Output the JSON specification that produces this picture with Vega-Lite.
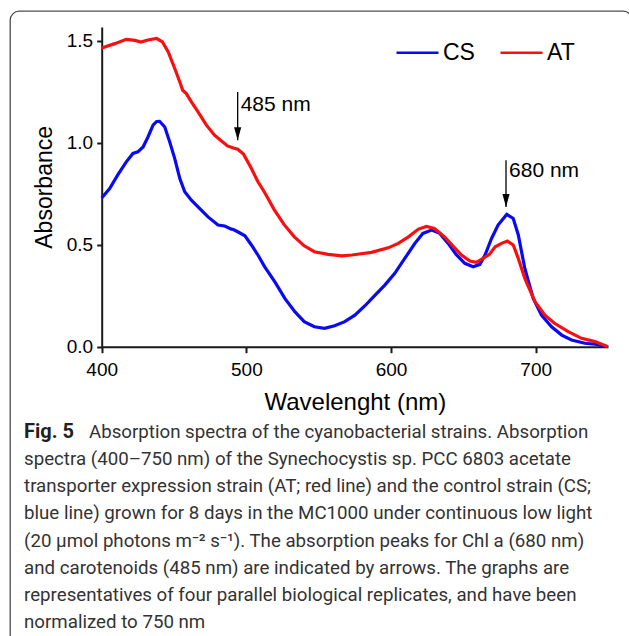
{
  "$schema": "https://vega.github.io/schema/vega-lite/v6.json",
  "width": 622,
  "height": 635,
  "autosize": {"type": "none"},
  "padding": {"left": 10, "top": 11, "right": -3, "bottom": -10},
  "background": "white",
  "config": {
    "view": {"stroke": "#4d4d4d", "strokeWidth": 1.3, "cornerRadius": 9},
    "font": "Liberation Sans"
  },
  "datasets": {
    "spectra": [
      {"strain":"CS","nm":400,"abs":0.73},{"strain":"CS","nm":405.5,"abs":0.776},{"strain":"CS","nm":411,"abs":0.842},{"strain":"CS","nm":417,"abs":0.907},{"strain":"CS","nm":421.6,"abs":0.948},{"strain":"CS","nm":425,"abs":0.956},{"strain":"CS","nm":428.6,"abs":0.98},{"strain":"CS","nm":432,"abs":1.029},{"strain":"CS","nm":435.5,"abs":1.087},{"strain":"CS","nm":438,"abs":1.105},{"strain":"CS","nm":440,"abs":1.106},{"strain":"CS","nm":443.6,"abs":1.078},{"strain":"CS","nm":447,"abs":1.005},{"strain":"CS","nm":450.5,"abs":0.923},{"strain":"CS","nm":454,"abs":0.825},{"strain":"CS","nm":457.4,"abs":0.76},{"strain":"CS","nm":462,"abs":0.719},{"strain":"CS","nm":466.6,"abs":0.686},{"strain":"CS","nm":473.5,"abs":0.637},{"strain":"CS","nm":480.4,"abs":0.597},{"strain":"CS","nm":485,"abs":0.592},{"strain":"CS","nm":489.7,"abs":0.577},{"strain":"CS","nm":491,"abs":0.575},{"strain":"CS","nm":494,"abs":0.564},{"strain":"CS","nm":499,"abs":0.544},{"strain":"CS","nm":503.5,"abs":0.499},{"strain":"CS","nm":508,"abs":0.45},{"strain":"CS","nm":512.7,"abs":0.392},{"strain":"CS","nm":519.6,"abs":0.319},{"strain":"CS","nm":526.6,"abs":0.237},{"strain":"CS","nm":533.5,"abs":0.172},{"strain":"CS","nm":540,"abs":0.123},{"strain":"CS","nm":547,"abs":0.098},{"strain":"CS","nm":554,"abs":0.09},{"strain":"CS","nm":561,"abs":0.103},{"strain":"CS","nm":568,"abs":0.123},{"strain":"CS","nm":575,"abs":0.155},{"strain":"CS","nm":582,"abs":0.201},{"strain":"CS","nm":589,"abs":0.253},{"strain":"CS","nm":595.7,"abs":0.302},{"strain":"CS","nm":602.6,"abs":0.36},{"strain":"CS","nm":609.5,"abs":0.433},{"strain":"CS","nm":616.5,"abs":0.507},{"strain":"CS","nm":622,"abs":0.556},{"strain":"CS","nm":628,"abs":0.572},{"strain":"CS","nm":633.7,"abs":0.556},{"strain":"CS","nm":639.5,"abs":0.507},{"strain":"CS","nm":645,"abs":0.453},{"strain":"CS","nm":651,"abs":0.409},{"strain":"CS","nm":656.8,"abs":0.392},{"strain":"CS","nm":661.4,"abs":0.404},{"strain":"CS","nm":665,"abs":0.45},{"strain":"CS","nm":669.5,"abs":0.531},{"strain":"CS","nm":674,"abs":0.597},{"strain":"CS","nm":680,"abs":0.649},{"strain":"CS","nm":684.5,"abs":0.629},{"strain":"CS","nm":688,"abs":0.548},{"strain":"CS","nm":692.5,"abs":0.384},{"strain":"CS","nm":698.3,"abs":0.237},{"strain":"CS","nm":704,"abs":0.155},{"strain":"CS","nm":711,"abs":0.098},{"strain":"CS","nm":718,"abs":0.057},{"strain":"CS","nm":724.8,"abs":0.033},{"strain":"CS","nm":734,"abs":0.017},{"strain":"CS","nm":741,"abs":0.012},{"strain":"CS","nm":750,"abs":0.0},
      {"strain":"AT","nm":400,"abs":1.466},{"strain":"AT","nm":409,"abs":1.487},{"strain":"AT","nm":417,"abs":1.508},{"strain":"AT","nm":423,"abs":1.503},{"strain":"AT","nm":427,"abs":1.495},{"strain":"AT","nm":432,"abs":1.505},{"strain":"AT","nm":438,"abs":1.512},{"strain":"AT","nm":442,"abs":1.495},{"strain":"AT","nm":446,"abs":1.446},{"strain":"AT","nm":450.5,"abs":1.365},{"strain":"AT","nm":454,"abs":1.299},{"strain":"AT","nm":456,"abs":1.258},{"strain":"AT","nm":458.5,"abs":1.242},{"strain":"AT","nm":462,"abs":1.201},{"strain":"AT","nm":466.6,"abs":1.152},{"strain":"AT","nm":472.4,"abs":1.087},{"strain":"AT","nm":478,"abs":1.038},{"strain":"AT","nm":483,"abs":1.008},{"strain":"AT","nm":487,"abs":0.985},{"strain":"AT","nm":491,"abs":0.975},{"strain":"AT","nm":494,"abs":0.969},{"strain":"AT","nm":498,"abs":0.945},{"strain":"AT","nm":503.5,"abs":0.874},{"strain":"AT","nm":508,"abs":0.809},{"strain":"AT","nm":511.5,"abs":0.77},{"strain":"AT","nm":515,"abs":0.727},{"strain":"AT","nm":519,"abs":0.675},{"strain":"AT","nm":526,"abs":0.6},{"strain":"AT","nm":533,"abs":0.54},{"strain":"AT","nm":540,"abs":0.495},{"strain":"AT","nm":547,"abs":0.466},{"strain":"AT","nm":556.5,"abs":0.453},{"strain":"AT","nm":566,"abs":0.446},{"strain":"AT","nm":573,"abs":0.45},{"strain":"AT","nm":578,"abs":0.455},{"strain":"AT","nm":586.5,"abs":0.463},{"strain":"AT","nm":598,"abs":0.485},{"strain":"AT","nm":605,"abs":0.507},{"strain":"AT","nm":612,"abs":0.539},{"strain":"AT","nm":619,"abs":0.577},{"strain":"AT","nm":624.5,"abs":0.59},{"strain":"AT","nm":630,"abs":0.58},{"strain":"AT","nm":637,"abs":0.539},{"strain":"AT","nm":644,"abs":0.485},{"strain":"AT","nm":648.7,"abs":0.45},{"strain":"AT","nm":654.5,"abs":0.42},{"strain":"AT","nm":659,"abs":0.414},{"strain":"AT","nm":663.6,"abs":0.433},{"strain":"AT","nm":668,"abs":0.453},{"strain":"AT","nm":672,"abs":0.49},{"strain":"AT","nm":676.4,"abs":0.507},{"strain":"AT","nm":680.5,"abs":0.518},{"strain":"AT","nm":684.5,"abs":0.499},{"strain":"AT","nm":688,"abs":0.433},{"strain":"AT","nm":692.5,"abs":0.335},{"strain":"AT","nm":699.5,"abs":0.221},{"strain":"AT","nm":706.4,"abs":0.155},{"strain":"AT","nm":713,"abs":0.115},{"strain":"AT","nm":722.5,"abs":0.074},{"strain":"AT","nm":731.7,"abs":0.041},{"strain":"AT","nm":741,"abs":0.025},{"strain":"AT","nm":750,"abs":0.0}
    ],
    "arrows": [
      {"nm": 494, "top": 1.25, "tip": 1.013, "labelY": 1.188, "label": "485 nm"},
      {"nm": 679.5, "top": 0.915, "tip": 0.686, "labelY": 0.863, "label": "680 nm"}
    ],
    "caption": [
      {"line": 1, "lead": "Fig. 5", "text": "Absorption spectra of the cyanobacterial strains. Absorption"},
      {"line": 2, "lead": "", "text": "spectra (400–750 nm) of the Synechocystis sp. PCC 6803 acetate"},
      {"line": 3, "lead": "", "text": "transporter expression strain (AT; red line) and the control strain (CS;"},
      {"line": 4, "lead": "", "text": "blue line) grown for 8 days in the MC1000 under continuous low light"},
      {"line": 5, "lead": "", "text": "(20 µmol photons m⁻² s⁻¹). The absorption peaks for Chl a (680 nm)"},
      {"line": 6, "lead": "", "text": "and carotenoids (485 nm) are indicated by arrows. The graphs are"},
      {"line": 7, "lead": "", "text": "representatives of four parallel biological replicates, and have been"},
      {"line": 8, "lead": "", "text": "normalized to 750 nm"}
    ]
  },
  "layer": [
    {
      "layer": [
        {
          "data": {"name": "spectra"},
          "mark": {"type": "line", "strokeWidth": 3.2},
          "encoding": {
            "x": {
              "field": "nm", "type": "quantitative",
              "scale": {"domain": [400, 750], "range": [91.7, 598], "nice": false, "zero": false},
              "axis": {
                "title": "Wavelenght (nm)", "values": [400, 500, 600, 700], "format": "d",
                "offset": -299.3, "grid": false, "labelFlush": false,
                "domainColor": "#1a1a1a", "domainWidth": 2, "tickColor": "#1a1a1a", "tickWidth": 2, "tickSize": 6,
                "labelFont": "Liberation Sans", "labelFontSize": 19, "labelColor": "black", "labelPadding": 8,
                "titleFont": "Liberation Sans", "titleFontSize": 24, "titleFontWeight": "normal", "titleColor": "black", "titlePadding": 11
              }
            },
            "y": {
              "field": "abs", "type": "quantitative",
              "scale": {"domain": [0, 1.5686], "range": [335.7, 16], "nice": false, "zero": false},
              "axis": {
                "title": "Absorbance", "values": [0, 0.5, 1, 1.5], "format": ".1f",
                "offset": -91.7, "grid": false, "labelFlush": false,
                "domainColor": "#1a1a1a", "domainWidth": 2, "tickColor": "#1a1a1a", "tickWidth": 2, "tickSize": 5,
                "labelFont": "Liberation Sans", "labelFontSize": 19, "labelColor": "black", "labelPadding": 4,
                "titleFont": "Liberation Sans", "titleFontSize": 23, "titleFontWeight": "normal", "titleColor": "black", "titlePadding": 10
              }
            },
            "color": {
              "field": "strain", "type": "nominal", "sort": ["CS", "AT"],
              "scale": {"domain": ["CS", "AT"], "range": ["#0a0af0", "#f81010"]},
              "legend": {
                "title": null, "orient": "none", "legendX": 385, "legendY": 19, "direction": "horizontal",
                "symbolType": "stroke", "symbolSize": 1764, "symbolStrokeWidth": 2.5,
                "labelFont": "Liberation Sans", "labelFontSize": 23, "labelColor": "black", "labelOffset": 3,
                "columnPadding": 20, "padding": 0
              }
            }
          }
        },
        {
          "data": {"name": "arrows"},
          "mark": {"type": "rule", "strokeWidth": 1.3, "color": "black"},
          "encoding": {
            "x": {"field": "nm", "type": "quantitative", "scale": {"domain": [400, 750], "range": [91.7, 598], "nice": false, "zero": false}, "title": "Wavelenght (nm)"},
            "y": {"field": "top", "type": "quantitative", "scale": {"domain": [0, 1.5686], "range": [335.7, 16], "nice": false, "zero": false}, "title": "Absorbance"},
            "y2": {"field": "tip"}
          }
        },
        {
          "data": {"name": "arrows"},
          "mark": {"type": "point", "shape": "M-0.55,-2L0.55,-2L0,0Z", "filled": true, "color": "black", "size": 169, "opacity": 1, "strokeWidth": 0},
          "encoding": {
            "x": {"field": "nm", "type": "quantitative", "scale": {"domain": [400, 750], "range": [91.7, 598], "nice": false, "zero": false}, "title": "Wavelenght (nm)"},
            "y": {"field": "tip", "type": "quantitative", "scale": {"domain": [0, 1.5686], "range": [335.7, 16], "nice": false, "zero": false}, "title": "Absorbance"}
          }
        },
        {
          "data": {"name": "arrows"},
          "mark": {"type": "text", "align": "left", "baseline": "middle", "dx": 3, "fontSize": 21, "font": "Liberation Sans", "color": "black"},
          "encoding": {
            "x": {"field": "nm", "type": "quantitative", "scale": {"domain": [400, 750], "range": [91.7, 598], "nice": false, "zero": false}, "title": "Wavelenght (nm)"},
            "y": {"field": "labelY", "type": "quantitative", "scale": {"domain": [0, 1.5686], "range": [335.7, 16], "nice": false, "zero": false}, "title": "Absorbance"},
            "text": {"field": "label"}
          }
        }
      ]
    },
    {
      "data": {"name": "caption"},
      "encoding": {
        "x": {"datum": 346.3, "type": "quantitative", "scale": {"domain": [400, 750], "range": [91.7, 598], "nice": false, "zero": false}, "title": "Wavelenght (nm)"},
        "y": {"field": "line", "type": "ordinal", "scale": {"type": "point", "range": [421, 611], "padding": 0}, "axis": null}
      },
      "layer": [
        {
          "transform": [{"filter": "datum.line === 1"}],
          "mark": {"type": "text", "align": "left", "baseline": "middle", "font": "Roboto", "fontSize": 20, "fontWeight": "bold", "color": "#231f20"},
          "encoding": {"text": {"field": "lead"}}
        },
        {
          "transform": [{"filter": "datum.line === 1"}],
          "mark": {"type": "text", "align": "left", "baseline": "middle", "dx": 65, "font": "Roboto", "fontSize": 18.7, "fontWeight": "normal", "color": "#333333"},
          "encoding": {"text": {"field": "text"}}
        },
        {
          "transform": [{"filter": "datum.line > 1"}],
          "mark": {"type": "text", "align": "left", "baseline": "middle", "font": "Roboto", "fontSize": 18.7, "fontWeight": "normal", "color": "#333333"},
          "encoding": {"text": {"field": "text"}}
        }
      ]
    }
  ],
  "resolve": {"scale": {"y": "independent"}}
}
